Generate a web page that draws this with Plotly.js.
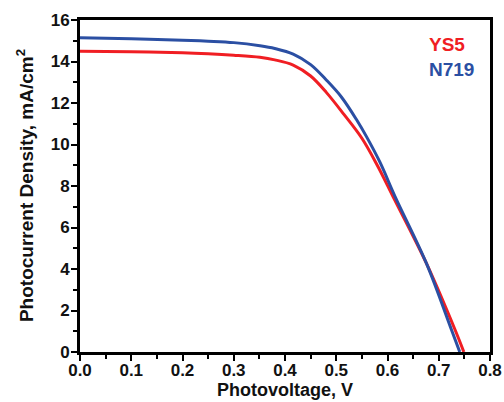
<!DOCTYPE html>
<html><head><meta charset="utf-8">
<script src="https://cdn.plot.ly/plotly-3.0.1.min.js"></script>
<style>html,body{margin:0;padding:0;background:#fff}#chart{width:504px;height:402px}</style>
</head><body><div id="chart"></div>
<script>
const ys5_v = [0, 0.1, 0.2, 0.25, 0.3, 0.351, 0.38, 0.416, 0.45, 0.481, 0.515, 0.55, 0.58, 0.611, 0.676, 0.732, 0.749];
const ys5_j = [14.5, 14.47, 14.42, 14.37, 14.3, 14.2, 14.08, 13.83, 13.3, 12.5, 11.45, 10.3, 9.0, 7.48, 4.27, 1.06, 0];
const n719_v = [0, 0.1, 0.2, 0.25, 0.3, 0.351, 0.38, 0.416, 0.45, 0.481, 0.51, 0.54, 0.559, 0.585, 0.615, 0.676, 0.725, 0.741];
const n719_j = [15.15, 15.1, 15.03, 14.98, 14.91, 14.76, 14.63, 14.36, 13.85, 13.1, 12.29, 11.18, 10.38, 9.16, 7.48, 4.27, 1.06, 0];
const seriesNames = ["YS5", "N719"];
const seriesColors = ["#f01e23", "#2b4fa3"];
const xTitle = "Photovoltage, V";
const yTitle = "Photocurrent Density, mA/cm<sup>2</sup>";

const fam = "Liberation Sans, Arial, sans-serif";
const traces = [
  {x: ys5_v, y: ys5_j, name: seriesNames[0], mode: "lines", line: {color: seriesColors[0], width: 3, shape: "spline", smoothing: 1}},
  {x: n719_v, y: n719_j, name: seriesNames[1], mode: "lines", line: {color: seriesColors[1], width: 3, shape: "spline", smoothing: 1}}
];
const axisCommon = {
  showline: true, linewidth: 3, linecolor: "#000", mirror: true, showgrid: false, zeroline: false,
  ticks: "outside", ticklen: 6, tickwidth: 2, tickcolor: "#000", automargin: false,
  tickfont: {family: fam, size: 17, color: "#111", weight: "bold"}
};
const layout = {
  width: 504, height: 402,
  margin: {l: 80, r: 14, t: 20, b: 50},
  paper_bgcolor: "#fff", plot_bgcolor: "#fff",
  showlegend: false,
  font: {family: fam, color: "#111"},
  xaxis: Object.assign({}, axisCommon, {
    range: [0, 0.8], dtick: 0.1, tickformat: ".1f", ticklabelstandoff: -5,
    minor: {dtick: 0.05, ticks: "outside", ticklen: 4, tickwidth: 2, tickcolor: "#000"}
  }),
  yaxis: Object.assign({}, axisCommon, {
    range: [0, 16], dtick: 2, ticklabelstandoff: -2,
    minor: {dtick: 1, ticks: "outside", ticklen: 4, tickwidth: 2, tickcolor: "#000"}
  }),
  annotations: [
    {xref: "paper", yref: "paper", x: 0.846, y: 0.926, xanchor: "left", yanchor: "middle", showarrow: false,
     text: "<b>" + seriesNames[0] + "</b>", font: {family: fam, size: 19, color: seriesColors[0]}},
    {xref: "paper", yref: "paper", x: 0.846, y: 0.851, xanchor: "left", yanchor: "middle", showarrow: false,
     text: "<b>" + seriesNames[1] + "</b>", font: {family: fam, size: 19, color: seriesColors[1]}},
    {xref: "paper", yref: "paper", x: 0.5, y: -0.115, xanchor: "center", yanchor: "middle", showarrow: false,
     text: "<b>" + xTitle + "</b>", font: {family: fam, size: 18, color: "#111"}},
    {xref: "paper", yref: "paper", x: -0.134, y: 0.5, xanchor: "center", yanchor: "middle", showarrow: false, textangle: -90,
     text: "<b>" + yTitle + "</b>", font: {family: fam, size: 19, color: "#111"}}
  ]
};
Plotly.newPlot("chart", traces, layout, {displayModeBar: false, staticPlot: true});
</script>
</body></html>
